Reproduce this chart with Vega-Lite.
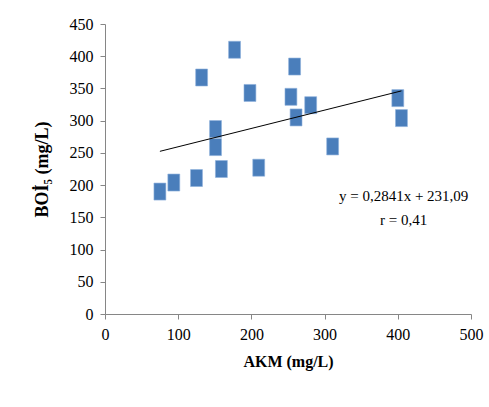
{
  "$schema": "https://vega.github.io/schema/vega-lite/v6.json",
  "width": 366,
  "height": 290,
  "autosize": {"type": "none"},
  "padding": {"left": 105, "top": 24, "right": 18, "bottom": 93},
  "background": "white",
  "config": {
    "font": "Liberation Serif",
    "view": {"stroke": null},
    "axis": {
      "grid": false,
      "domainColor": "#868686",
      "tickColor": "#868686",
      "tickSize": 5,
      "labelFont": "Liberation Serif",
      "titleFont": "Liberation Serif",
      "labelFontSize": 16,
      "labelColor": "#000000",
      "labelPadding": 7,
      "labelFlush": false,
      "labelOverlap": false,
      "titleFontSize": 16,
      "titleFontWeight": "bold",
      "titleColor": "#000000"
    }
  },
  "datasets": {
    "points": [
      {"AKM": 75, "BOI": 190},
      {"AKM": 94, "BOI": 204},
      {"AKM": 125, "BOI": 211},
      {"AKM": 132, "BOI": 367},
      {"AKM": 151, "BOI": 287},
      {"AKM": 151, "BOI": 259},
      {"AKM": 159, "BOI": 225},
      {"AKM": 177, "BOI": 410},
      {"AKM": 198, "BOI": 343},
      {"AKM": 210, "BOI": 227},
      {"AKM": 254, "BOI": 337},
      {"AKM": 259, "BOI": 384},
      {"AKM": 261, "BOI": 305},
      {"AKM": 281, "BOI": 324},
      {"AKM": 311, "BOI": 260},
      {"AKM": 400, "BOI": 335},
      {"AKM": 405, "BOI": 304}
    ],
    "trend": [
      {"AKM": 75, "BOI": 252.4},
      {"AKM": 405, "BOI": 346.2}
    ],
    "labels": [
      {"AKM": 408, "BOI": 183, "label": "y = 0,2841x + 231,09"},
      {"AKM": 408, "BOI": 146, "label": "r = 0,41"}
    ]
  },
  "layer": [
    {
      "data": {"name": "points"},
      "mark": {
        "type": "point",
        "shape": "M-0.7,-1H0.7V1H-0.7Z",
        "filled": true,
        "size": 289,
        "color": "#4A7EBB",
        "stroke": "#8DB0DC",
        "strokeWidth": 0.6,
        "opacity": 1
      },
      "encoding": {
        "x": {
          "field": "AKM",
          "type": "quantitative",
          "scale": {"domain": [0, 500], "nice": false},
          "axis": {"values": [0, 100, 200, 300, 400, 500], "title": "AKM (mg/L)", "titlePadding": 11, "labelOverlap": false}
        },
        "y": {
          "field": "BOI",
          "type": "quantitative",
          "scale": {"domain": [0, 450], "nice": false},
          "axis": {"values": [0, 50, 100, 150, 200, 250, 300, 350, 400, 450], "tickCount": 10, "labelOverlap": false, "title": "BOİ₅ (mg/L)", "titlePadding": 18, "titleFontSize": 18}
        }
      }
    },
    {
      "data": {"name": "trend"},
      "mark": {"type": "line", "color": "#000000", "strokeWidth": 1},
      "encoding": {
        "x": {"field": "AKM", "type": "quantitative"},
        "y": {"field": "BOI", "type": "quantitative"}
      }
    },
    {
      "data": {"name": "labels"},
      "mark": {"type": "text", "font": "Liberation Serif", "fontSize": 15, "align": "center", "baseline": "middle", "color": "#000000"},
      "encoding": {
        "x": {"field": "AKM", "type": "quantitative"},
        "y": {"field": "BOI", "type": "quantitative"},
        "text": {"field": "label"}
      }
    }
  ]
}
